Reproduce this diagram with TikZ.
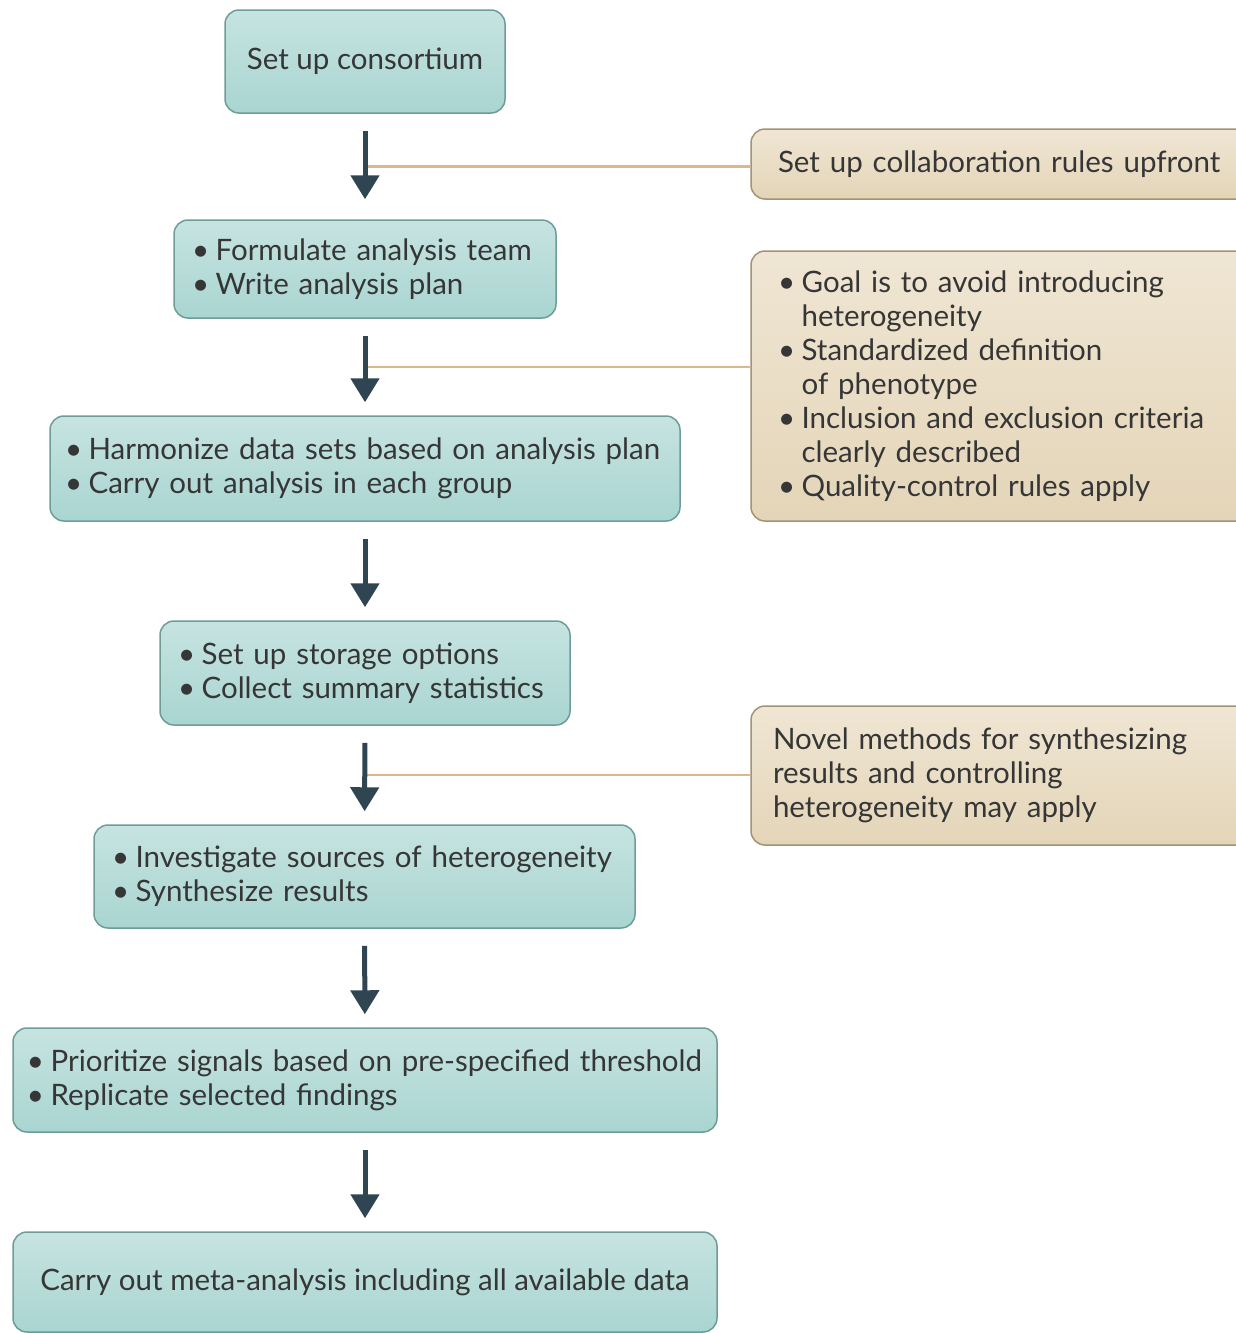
\documentclass[tikz,border=0pt]{standalone}
\usepackage{fontspec}
\setmainfont{Lato}
\usetikzlibrary{arrows.meta, positioning, calc}

\definecolor{tealfill}{HTML}{D3EAE7}
\definecolor{tealedge}{HTML}{A9D5D1}
\definecolor{tealline}{HTML}{6E9C99}
\definecolor{tanfill}{HTML}{F4EDDF}
\definecolor{tanedge}{HTML}{E4D5B8}
\definecolor{tanline}{HTML}{A39273}
\definecolor{linktan}{HTML}{D9B98A}
\definecolor{arrowdark}{HTML}{2F4652}
\definecolor{textgray}{HTML}{363636}

\newcommand{\bul}{\textbullet\hspace{0.22em}}
\newcommand{\ind}{\phantom{\textbullet\hspace{0.22em}}}

\begin{document}
\begin{tikzpicture}[
    x=1pt, y=-1pt,
    every node/.style={font=\fontsize{29.5}{34}\selectfont, text=textgray},
    stepbox/.style={draw=tealline, line width=1.5pt, rounded corners=14pt,
      top color=tealfill!70!tealedge, middle color=tealfill, bottom color=tealedge,
      inner xsep=18pt, inner ysep=0pt, align=left},
    notebox/.style={draw=tanline, line width=1.5pt, rounded corners=14pt,
      top color=tanfill!70!tanedge, middle color=tanfill, bottom color=tanedge,
      inner xsep=27pt, inner ysep=0pt, align=left},
    flow/.style={-{Triangle[length=24pt,width=28pt]}, line width=5pt, arrowdark,
      shorten <=17pt, shorten >=13pt},
    link/.style={linktan, line width=2.5pt},
  ]
  \clip (0,0) rectangle (1236,1333);

  % Main steps
  \node[stepbox, align=center, minimum width=280pt, minimum height=103pt] (consort) at (365,61.5) {Set up consortium};
  \node[stepbox, text width=346pt, minimum height=98pt] (formulate) at (365,269) {\bul Formulate analysis team\\ \bul Write analysis plan};
  \node[stepbox, inner xsep=15pt, text width=600pt, minimum height=105pt] (harmonize) at (365,468.5) {\bul Harmonize data sets based on analysis plan\\ \bul Carry out analysis in each group};
  \node[stepbox, text width=374pt, minimum height=104pt] (storage) at (365,673) {\bul Set up storage options\\ \bul Collect summary statistics};
  \node[stepbox, text width=505pt, minimum height=103pt] (investigate) at (364.5,876.5) {\bul Investigate sources of heterogeneity\\ \bul Synthesize results};
  \node[stepbox, inner xsep=14pt, text width=676pt, minimum height=104pt] (prioritize) at (365,1080) {\bul Prioritize signals based on pre-specified threshold\\ \bul Replicate selected findings};
  \node[stepbox, align=center, minimum width=704pt, minimum height=100pt] (meta) at (365,1282) {Carry out meta-analysis including all available data};

  % Side notes
  \node[notebox, text width=455pt, minimum height=70pt] (collab) at (1005.5,164) {Set up collaboration rules upfront};
  \node[notebox, text width=455pt, minimum height=270pt] (goals) at (1005.5,386) {\bul Goal is to avoid introducing\\ \ind heterogeneity\\ \bul Standardized definition\\ \ind of phenotype\\ \bul Inclusion and exclusion criteria\\ \ind clearly described\\ \bul Quality-control rules apply};
  \node[notebox, inner xsep=22pt, text width=465pt, minimum height=139pt] (novel) at (1005.5,775.5) {Novel methods for synthesizing\\ results and controlling\\ heterogeneity may apply};

  % Links to side notes
  \coordinate (j1) at ($(consort.south)!0.5!(formulate.north)$);
  \coordinate (j2) at ($(formulate.south)!0.5!(harmonize.north)$);
  \coordinate (j3) at ($(storage.south)!0.5!(investigate.north)$);
  \draw[link] (j1) -- (j1 -| collab.west);
  \draw[link] (j2) -- (j2 -| goals.west);
  \draw[link] (j3) -- (j3 -| novel.west);

  % Arrows
  \draw[flow, shorten >=20pt] (consort) -- (formulate);
  \draw[flow] (formulate) -- (harmonize);
  \draw[flow] (harmonize) -- (storage);
  \draw[flow] (storage) -- (investigate);
  \draw[flow] (investigate) -- (prioritize);
  \draw[flow] (prioritize) -- (meta);
\end{tikzpicture}
\end{document}
